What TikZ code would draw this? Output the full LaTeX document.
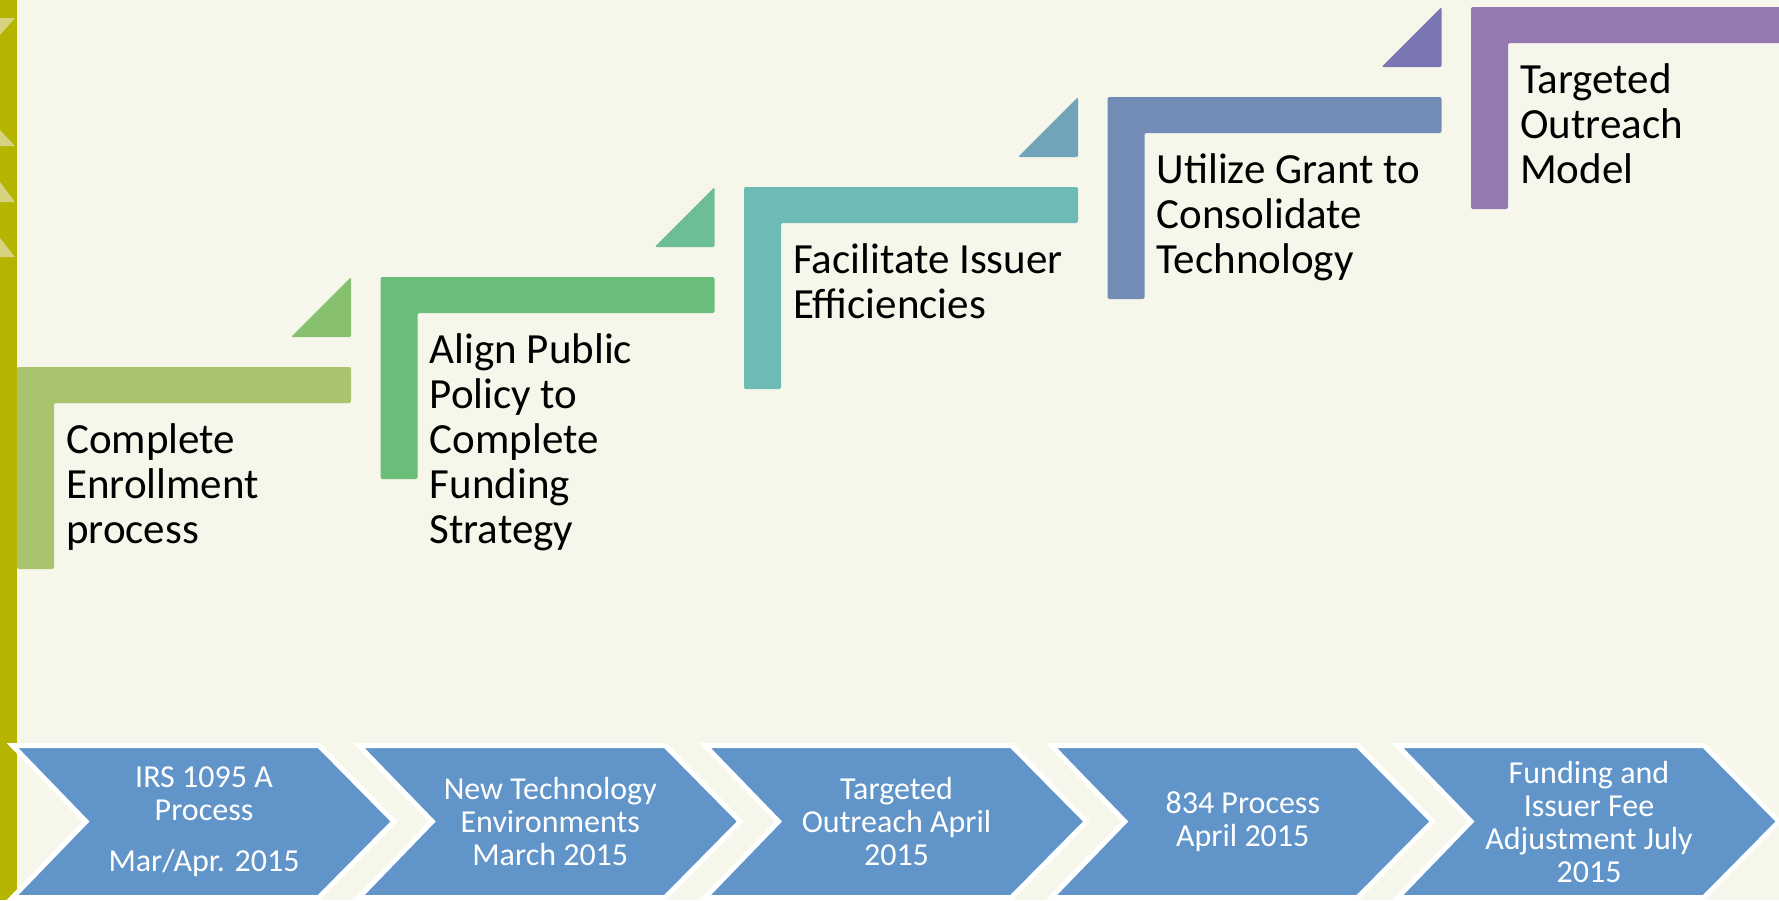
\documentclass[tikz,border=0pt]{standalone}
\usepackage{fontspec}
\setmainfont{Carlito}

\definecolor{bgcream}{RGB}{247,246,235}
\definecolor{olivebar}{RGB}{181,180,0}
\definecolor{olivelight}{RGB}{214,210,128}
\definecolor{chevblue}{RGB}{97,149,201}
\definecolor{barA}{RGB}{169,196,108}
\definecolor{triA}{RGB}{134,192,110}
\definecolor{barB}{RGB}{106,190,122}
\definecolor{triB}{RGB}{108,190,150}
\definecolor{barC}{RGB}{110,186,180}
\definecolor{triC}{RGB}{112,165,185}
\definecolor{barD}{RGB}{115,140,181}
\definecolor{triD}{RGB}{122,118,178}
\definecolor{barE}{RGB}{148,122,176}

\tikzset{
  steptext/.style={anchor=base west, align=left, inner sep=0pt, font=\fontsize{43}{45}\selectfont},
  miletext/.style={align=center, inner sep=0pt, text=white, font=\fontsize{32}{33}\selectfont},
  chevron/.style={fill=chevblue, draw=white, line width=5pt, line join=miter}
}

\begin{document}
\begin{tikzpicture}[x=1pt,y=-1pt]

  \useasboundingbox[fill=bgcream] (0,0) rectangle (1779,900);
  \fill[olivebar] (0,0) rectangle (17,900);
  \foreach \a/\b in {130/146, 182/202, 238/257}
  \fill[olivelight] (0,\a) -- (15,\b) -- (0,\b) -- cycle;
  \fill[olivelight] (0,18) -- (15,18) -- (0,35) -- cycle;

  % steps (last baseline = first + 45 per extra line)
  \foreach \i/\nl/\barc/\txt in {0/2/barA/{Complete\\Enrollment\\process}, 1/4/barB/{Align Public\\Policy to\\Complete\\Funding\\Strategy}, 2/1/barC/{Facilitate Issuer\\Efficiencies}, 3/2/barD/{Utilize Grant to\\Consolidate\\Technology}, 4/2/barE/{Targeted\\Outreach\\Model}}
  {
    \begin{scope}[shift={(363.5*\i,-90*\i)}]
      \fill[\barc, rounded corners=2pt] (17,367) -- (351,367) -- (351,403) -- (54,403) -- (54,569) -- (17,569) -- cycle;
      \node[steptext] (step\i) at (66,453+45*\nl) {\txt};
    \end{scope}
  }

  \foreach \i/\tric in {0/triA, 1/triB, 2/triC, 3/triD}
  \fill[\tric, rounded corners=1.5pt, shift={(363.5*\i,-90*\i)}] (291,337) -- (351,277) -- (351,337) -- cycle;

  % milestones
  \foreach \i/\txt in {0/{IRS 1095 A\\Process\\[18pt]Mar/Apr. 2015}, 1/{New Technology\\Environments\\March 2015}, 2/{Targeted\\Outreach April\\2015}, 3/{834 Process\\April 2015}, 4/{Funding and\\Issuer Fee\\Adjustment July\\2015}}
  {
    \draw[chevron, shift={(346.25*\i,0)}] (12.5,745.5) -- (319,745.5) -- (394,821.5) -- (319,897.5) -- (12.5,897.5) -- (86,821.5) -- cycle;
    \node[miletext] (mile\i) at (204+346.25*\i,821.5) {\txt};
  }

\end{tikzpicture}
\end{document}
